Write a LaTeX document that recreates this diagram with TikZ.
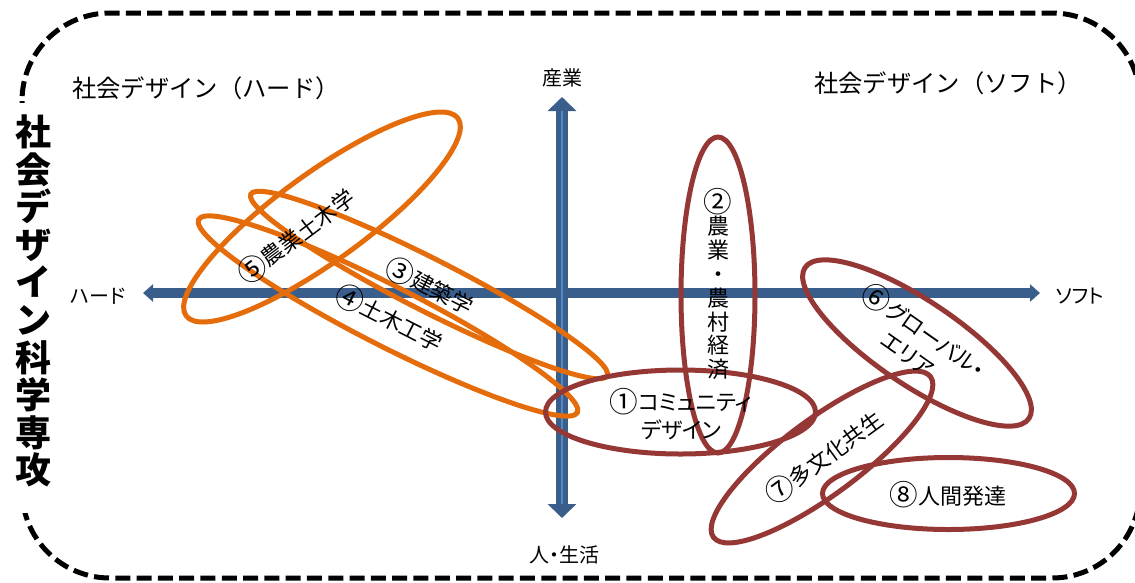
\documentclass[tikz,border=0pt]{standalone}
\usepackage{fontspec}
\setmainfont{Noto Sans CJK JP}
\newfontfamily\jpp{Noto Sans CJK JP}[RawFeature=+palt]
\usetikzlibrary{arrows.meta,shapes.geometric}
\definecolor{axblue}{RGB}{58,94,140}
\definecolor{axlight}{RGB}{85,135,195}
\definecolor{eor}{RGB}{228,108,10}
\definecolor{ered}{RGB}{149,55,53}
\newcommand\cnum[1]{\raisebox{-0.08em}{\scalebox{1.3}{#1}}}
\tikzset{
  ell/.style={ellipse, draw=#1, line width=5pt, inner sep=0pt, outer sep=0pt},
  lbl/.style={inner sep=0pt, text=black, font=\fontsize{22}{26}\selectfont},
  plbl/.style={inner sep=0pt, text=black, align=center, font=\jpp\fontsize{22}{28}\selectfont},
  vlbl/.style={inner sep=0pt, text=black, align=center, font=\fontsize{22}{23.9}\selectfont},
  axl/.style={inner sep=0pt, text=black, font=\jpp\fontsize{20}{24}\selectfont},
  corner/.style={inner sep=0pt, text=black, font=\fontsize{24.3}{28}\selectfont},
  titlebox/.style={inner sep=0pt, text=black, align=center, font=\fontsize{36}{37.6}\selectfont\bfseries},
  htip/.tip={Triangle[width=17pt,length=10pt]},
  vtip/.tip={Triangle[width=28pt,length=14pt]}
}
\begin{document}
\begin{tikzpicture}[x=1pt,y=-1pt]
\useasboundingbox (0,0) rectangle (1135,582);
% dashed frame
\draw[line width=5pt, dash pattern=on 15pt off 6.3pt, rounded corners=88pt] (22,13) rectangle (1140,578);
\fill[white] (4,103) rectangle (62,513);
\node[titlebox] (title) at (33,301) {社\\会\\デ\\ザ\\イ\\ン\\科\\学\\専\\攻};
% corner labels
\node[corner] (cl) at (206,88) {社会デザイン（ハード）};
\node[corner] (cr) at (948,83) {社会デザイン（ソフト）};
% axes
\coordinate (hL) at (143,293);
\coordinate (hR) at (1040,293);
\coordinate (vT) at (562,97);
\coordinate (vB) at (562,518);
\draw[axblue, line width=10pt, htip-htip] (hL) -- (hR);
\draw[axblue, line width=12pt, vtip-vtip] (vB) -- (vT);
\draw[axlight, line width=2.5pt, shorten <=14pt, shorten >=14pt] (vB) -- (vT);
\node[axl] (atop) at (562,78) {産業};
\node[axl] (abot) at (564,555) {人・生活};
\node[axl] (aleft) at (98,296) {ハード};
\node[axl] (aright) at (1080,296) {ソフト};
% orange ellipses
\node[ell=eor, minimum width=336pt, minimum height=88pt, rotate=36] (e5) at (322,217) {};
\node[ell=eor, minimum width=400pt, minimum height=52pt, rotate=-27] (e3) at (429,285) {};
\node[ell=eor, minimum width=425pt, minimum height=60pt, rotate=-27] (e4) at (388,316) {};
% red ellipses
\node[ell=ered, minimum width=74pt, minimum height=316pt] (e2) at (718,295) {};
\node[ell=ered, minimum width=270pt, minimum height=84pt] (e1) at (680.5,412) {};
\node[ell=ered, minimum width=270pt, minimum height=84pt, rotate=-34] (e6) at (917,343) {};
\node[ell=ered, minimum width=270pt, minimum height=76pt, rotate=36.5] (e7) at (822,457) {};
\node[ell=ered, minimum width=252pt, minimum height=72pt] (e8) at (948.5,493.5) {};
% labels
\node[lbl, rotate=37] (t5) at (296,236) {\cnum{⑤}農業土木学};
\node[lbl, rotate=-27] (t3) at (430,286) {\cnum{③}建築学};
\node[lbl, rotate=-27] (t4) at (389,318) {\cnum{④}土木工学};
\node[vlbl] (t2) at (718,284) {\cnum{②}\\農\\業\\・\\農\\村\\経\\済};
\node[plbl] (t1) at (681,414) {\cnum{①}コミュニティ\\デザイン};
\node[plbl, rotate=-35] (t6) at (917,341) {\cnum{⑥}グローバル・\\エリア};
\node[lbl, rotate=36] (t7) at (824,457) {\cnum{⑦}多文化共生};
\node[lbl] (t8) at (948,495) {\cnum{⑧}人間発達};
\end{tikzpicture}
\end{document}
